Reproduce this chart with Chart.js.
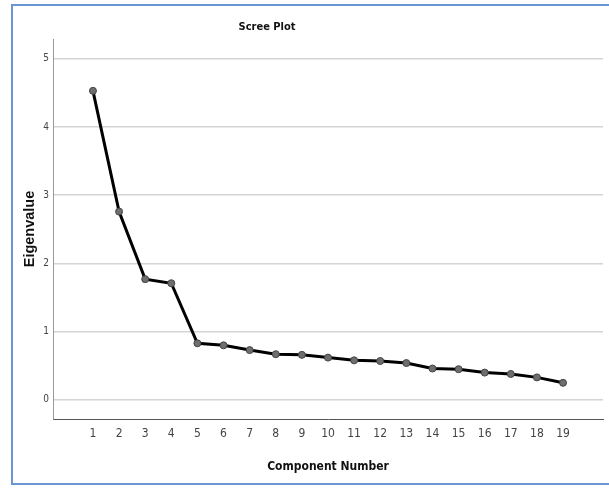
<!DOCTYPE html>
<html>
<head>
<meta charset="utf-8">
<script src="https://cdn.jsdelivr.net/npm/chart.js@4"></script>
<style>
    html, body { margin: 0; padding: 0; background: #fff; }
    #wrap { position: relative; width: 609px; height: 488px; overflow: hidden; }
    #frame {
        position: absolute; left: 11px; top: 4px; width: 620px; height: 481px;
        border: 2px solid #6b96d6; box-sizing: border-box;
    }
    canvas { position: absolute; left: 0; top: 0; }
</style>
</head>
<body>
<div id="wrap">
    <div id="frame"></div>
    <canvas id="scree" width="609" height="488"></canvas>
</div>
<script>
// Scree plot data
const components = [1, 2, 3, 4, 5, 6, 7, 8, 9, 10, 11, 12, 13, 14, 15, 16, 17, 18, 19];
const eigenvalues = [4.53, 2.76, 1.77, 1.71, 0.83, 0.80, 0.73, 0.67, 0.66, 0.62, 0.58, 0.57, 0.54, 0.46, 0.45, 0.40, 0.38, 0.33, 0.25];
const yTicks = [0, 1, 2, 3, 4, 5];

const narrow = "'Liberation Sans Narrow', 'DejaVu Sans Condensed', 'Liberation Sans', sans-serif";

// title sits left of centre in the original, draw it ourselves
const screeTitle = {
    id: 'screeTitle',
    afterDraw(chart) {
        const ctx = chart.ctx;
        ctx.save();
        ctx.font = "bold 11px " + narrow;
        ctx.fillStyle = '#111';
        ctx.textAlign = 'center';
        ctx.textBaseline = 'middle';
        ctx.fillText('Scree Plot', 267, 27);
        ctx.restore();
    }
};

new Chart(document.getElementById('scree'), {
    type: 'line',
    data: {
        datasets: [{
            label: 'Eigenvalue',
            data: components.map((c, i) => ({ x: c, y: eigenvalues[i] })),
            borderColor: '#000',
            borderWidth: 3,
            tension: 0,
            pointRadius: 3.5,
            pointBackgroundColor: '#6e6e6e',
            pointBorderColor: '#444',
            pointBorderWidth: 1
        }]
    },
    options: {
        responsive: false,
        animation: false,
        layout: { padding: { left: 0, right: 6, top: 39, bottom: 0 } },
        plugins: {
            legend: { display: false },
            tooltip: { enabled: false }
        },
        scales: {
            x: {
                type: 'linear',
                min: -0.53,
                max: 20.53,
                afterBuildTicks: axis => { axis.ticks = components.map(v => ({ value: v })); },
                afterFit: axis => { axis.height = 69; },
                grid: { display: false, drawTicks: false },
                border: { display: true, color: '#555', width: 1 },
                ticks: {
                    autoSkip: false,
                    maxRotation: 0,
                    padding: 8,
                    color: '#444',
                    font: { family: narrow, size: 12 }
                },
                title: {
                    display: true,
                    text: 'Component Number',
                    color: '#111',
                    padding: { top: 0, bottom: 14 },
                    font: { family: narrow, size: 12, weight: 'bold' }
                }
            },
            y: {
                min: -0.28,
                max: 5.29,
                afterBuildTicks: axis => { axis.ticks = yTicks.map(v => ({ value: v })); },
                afterFit: axis => { axis.width = 53; },
                grid: { color: '#d4d4d4', lineWidth: 1.5, drawTicks: false },
                border: { display: true, color: '#999', width: 1 },
                ticks: {
                    autoSkip: false,
                    padding: 4,
                    color: '#444',
                    font: { family: narrow, size: 10 }
                },
                title: {
                    display: true,
                    text: 'Eigenvalue',
                    color: '#111',
                    padding: { top: 21, bottom: 0 },
                    font: { family: "'Liberation Sans', Arial, sans-serif", size: 14.5, weight: 'bold' }
                }
            }
        }
    },
    plugins: [screeTitle]
});
</script>
</body>
</html>
